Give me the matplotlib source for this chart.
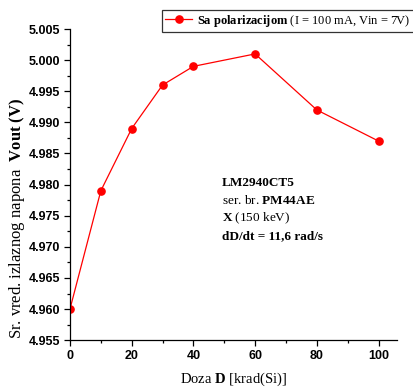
import matplotlib
matplotlib.use("Agg")
import matplotlib.pyplot as plt
from matplotlib.ticker import MultipleLocator

# data
doza = [0, 10, 20, 30, 40, 60, 80, 100]
vout = [4.960, 4.979, 4.989, 4.996, 4.999, 5.001, 4.992, 4.987]

x_ticks = [0, 20, 40, 60, 80, 100]
y_ticks = [4.955, 4.960, 4.965, 4.970, 4.975, 4.980, 4.985, 4.990, 4.995, 5.000, 5.005]

legend_label = r"$\mathbf{Sa\ polarizacijom}$ (I = 100 mA, Vin = 7V)"
# (text, bold?) for the note inside the plot
info_lines = [("LM2940CT5", True),
              (r"ser. br. $\mathbf{PM44AE}$", False),
              (r"$\mathbf{X}$ (150 keV)", False),
              ("dD/dt = 11,6 rad/s", True)]

plt.rcParams["mathtext.fontset"] = "custom"
plt.rcParams["mathtext.rm"] = "Liberation Serif"
plt.rcParams["mathtext.bf"] = "Liberation Serif:bold"
plt.rcParams["mathtext.it"] = "Liberation Serif:italic"

serif = "Liberation Serif"
sans = "Liberation Sans"

fig = plt.figure(figsize=(4.14, 3.87), dpi=100)
ax = fig.add_axes([0.169, 0.121, 0.79, 0.804])

line, = ax.plot(doza, vout, color="red", lw=0.9, marker="o", ms=5.2,
                markerfacecolor="red", markeredgecolor="red")

ax.set_xlim(0, 106)
ax.set_ylim(4.955, 5.005)
ax.set_xticks(x_ticks)
ax.set_yticks(y_ticks)
ax.set_yticklabels([f"{v:.3f}" for v in y_ticks])
ax.xaxis.set_minor_locator(MultipleLocator(10))
ax.yaxis.set_minor_locator(MultipleLocator(0.0025))

for s in ["top", "right"]:
    ax.spines[s].set_visible(False)
ax.spines["left"].set_linewidth(0.9)
ax.spines["bottom"].set_linewidth(0.9)
ax.tick_params(which="major", direction="out", length=4, width=0.9, pad=3)
ax.tick_params(which="minor", direction="out", length=2.5, width=0.9)
for lab in ax.get_xticklabels() + ax.get_yticklabels():
    lab.set_fontfamily(sans)
    lab.set_fontweight("bold")
    lab.set_fontsize(9)

ax.set_xlabel(r"Doza $\mathbf{D}$ [krad(Si)]", fontfamily=serif, fontsize=10.5, labelpad=6)
ax.set_ylabel(r"Sr. vred. izlaznog napona  $\mathbf{Vout\ (V)}$", fontfamily=serif,
              fontsize=12)
# label sits a bit below the middle in the original
ax.yaxis.set_label_coords(-0.13, 0.39)

leg = fig.legend([line], [legend_label], loc="upper right", bbox_to_anchor=(1.0, 0.975),
                 prop={"family": serif, "size": 9}, frameon=True, fancybox=False,
                 borderpad=0.25, handlelength=2.2, handletextpad=0.4, borderaxespad=0)
leg.get_frame().set_edgecolor("black")
leg.get_frame().set_linewidth(0.9)

ys = [0.505, 0.448, 0.391, 0.334]
for (txt, bold), y in zip(info_lines, ys):
    ax.text(0.465, y, txt, transform=ax.transAxes, fontfamily=serif, fontsize=9.5,
            fontweight="bold" if bold else "normal", va="center", ha="left")

fig.savefig("out.png", dpi=100)
